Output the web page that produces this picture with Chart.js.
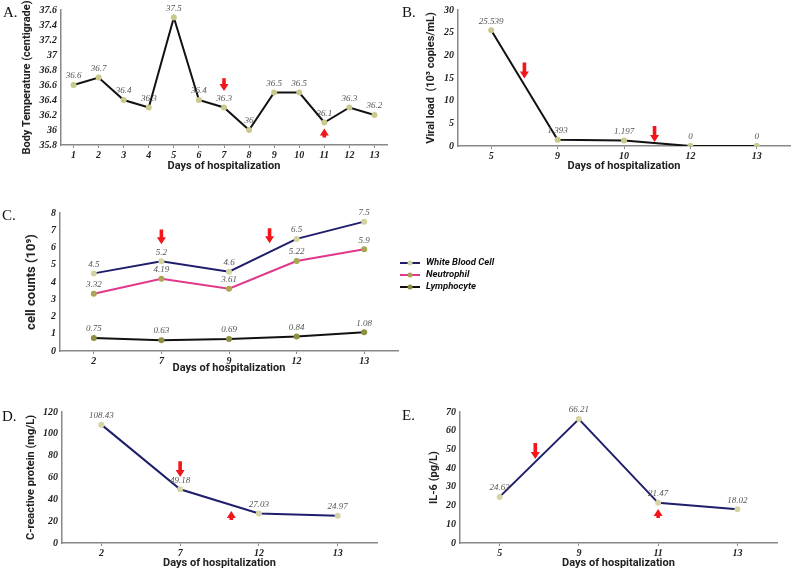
<!DOCTYPE html>
<html>
<head>
<meta charset="utf-8">
<script src="https://cdn.jsdelivr.net/npm/chart.js@4/dist/chart.umd.min.js"></script>
<style>
  body { margin: 0; background: #fff; }
  #page { position: relative; width: 794px; height: 570px; overflow: hidden; }
  canvas { position: absolute; }
  .tag { position: absolute; font: 15px "Liberation Serif", serif; color: #111; }
</style>
</head>
<body>
<div id="page">
  <canvas id="chartA" width="395" height="180" style="left:0;top:0"></canvas>
  <canvas id="chartB" width="394" height="180" style="left:400px;top:0"></canvas>
  <canvas id="chartC" width="500" height="190" style="left:0;top:190px"></canvas>
  <canvas id="chartD" width="395" height="185" style="left:0;top:385px"></canvas>
  <canvas id="chartE" width="394" height="185" style="left:400px;top:385px"></canvas>
  <div class="tag" style="left:3px;top:4px">A.</div>
  <div class="tag" style="left:402px;top:4px">B.</div>
  <div class="tag" style="left:2px;top:207px">C.</div>
  <div class="tag" style="left:2px;top:408px">D.</div>
  <div class="tag" style="left:402px;top:407px">E.</div>
</div>
<script>
// A - body temperature
const daysA = ['1', '2', '3', '4', '5', '6', '7', '8', '9', '10', '11', '12', '13'];
const tempA = [36.6, 36.7, 36.4, 36.3, 37.5, 36.4, 36.3, 36.0, 36.5, 36.5, 36.1, 36.3, 36.2];

// B - viral load
const daysB = ['5', '9', '10', '12', '13'];
const viralB = [25.539, 1.393, 1.197, 0, 0];

// C - cell counts
const daysC = ['2', '7', '9', '12', '13'];
const wbcC = [4.5, 5.2, 4.6, 6.5, 7.5];
const neutC = [3.32, 4.19, 3.61, 5.22, 5.9];
const lymphC = [0.75, 0.63, 0.69, 0.84, 1.08];

// D - CRP
const daysD = ['2', '7', '12', '13'];
const crpD = [108.43, 49.18, 27.03, 24.97];

// E - IL-6
const daysE = ['5', '9', '11', '13'];
const il6E = [24.63, 66.21, 21.47, 18.02];

// red arrows: category index, tail value, tip value
const arrowsA = [[6, 36.69, 36.52], [10, 35.9, 36.02]];
const arrowsB = [[0.5, 18.4, 14.9], [2.46, 4.4, 0.9]];
const arrowsC = [[1, 7.05, 6.19], [2.6, 7.11, 6.24]];
const arrowsD = [[1, 75, 60.5], [1.65, 21, 29.3]];
const arrowsE = [[0.45, 53.4, 44.9], [2, 13.4, 18.2]];

const serif = '"Liberation Serif", "Times New Roman", serif';
const sans = 'Roboto, "DejaVu Sans", sans-serif';

function fmt(v) {
  return String(Math.round(v * 1000) / 1000);
}

const valueLabels = {
  id: 'valueLabels',
  afterDatasetsDraw(chart) {
    const ctx = chart.ctx;
    ctx.save();
    ctx.font = 'italic 9px ' + serif;
    ctx.fillStyle = '#555';
    ctx.textAlign = 'center';
    ctx.textBaseline = 'middle';
    chart.data.datasets.forEach((ds, i) => {
      chart.getDatasetMeta(i).data.forEach((pt, j) => {
        ctx.fillText(fmt(ds.data[j]), pt.x, pt.y - 9);
      });
    });
    ctx.restore();
  }
};

const redArrows = {
  id: 'redArrows',
  afterDatasetsDraw(chart, args, opts) {
    const ctx = chart.ctx;
    const xs = chart.scales.x, ys = chart.scales.y;
    ctx.save();
    ctx.fillStyle = '#f2151a';
    (opts.items || []).forEach(a => {
      const x = xs.getPixelForValue(a[0]);
      const y0 = ys.getPixelForValue(a[1]);
      const y1 = ys.getPixelForValue(a[2]);
      const dir = Math.sign(y1 - y0);
      const head = 7;
      ctx.beginPath();
      ctx.moveTo(x - 1.8, y0);
      ctx.lineTo(x + 1.8, y0);
      ctx.lineTo(x + 1.8, y1 - dir * head);
      ctx.lineTo(x + 4.5, y1 - dir * head);
      ctx.lineTo(x, y1);
      ctx.lineTo(x - 4.5, y1 - dir * head);
      ctx.lineTo(x - 1.8, y1 - dir * head);
      ctx.closePath();
      ctx.fill();
    });
    ctx.restore();
  }
};

const sideLegend = {
  id: 'sideLegend',
  afterDraw(chart, args, opts) {
    if (!opts.show) return;
    const ctx = chart.ctx;
    const x = chart.chartArea.right + opts.dx;
    ctx.save();
    ctx.font = 'italic bold 9.5px ' + sans;
    ctx.textBaseline = 'middle';
    chart.data.datasets.forEach((ds, i) => {
      const y = opts.top + i * 12;
      ctx.strokeStyle = ds.borderColor;
      ctx.lineWidth = 2;
      ctx.beginPath();
      ctx.moveTo(x, y);
      ctx.lineTo(x + 20, y);
      ctx.stroke();
      ctx.fillStyle = ds.pointBackgroundColor;
      ctx.beginPath();
      ctx.arc(x + 10, y, 2.5, 0, Math.PI * 2);
      ctx.fill();
      ctx.fillStyle = '#111';
      ctx.fillText(ds.label, x + 26, y);
    });
    ctx.restore();
  }
};

function line(label, data, color, marker) {
  return {
    label, data,
    borderColor: color,
    borderWidth: 2,
    pointRadius: 3,
    pointBackgroundColor: marker,
    pointBorderColor: marker,
    pointBorderWidth: 0,
    tension: 0
  };
}

function makeChart(id, labels, datasets, cfg) {
  return new Chart(document.getElementById(id), {
    type: 'line',
    data: { labels, datasets },
    plugins: [valueLabels, redArrows, sideLegend],
    options: {
      responsive: false,
      animation: false,
      layout: { padding: { top: cfg.top, right: cfg.right, left: 0, bottom: 0 } },
      plugins: {
        legend: { display: false },
        tooltip: { enabled: false },
        redArrows: { items: cfg.arrows },
        sideLegend: cfg.legend || { show: false }
      },
      scales: {
        x: {
          offset: true,
          grid: { display: true, drawOnChartArea: false, offset: false, tickLength: 3, color: '#888' },
          border: { color: '#888', width: 1.5 },
          ticks: { color: '#222', padding: 1, font: { family: serif, size: 10, style: 'italic', weight: 'bold' } },
          title: {
            display: true, text: 'Days of hospitalization', color: '#222',
            font: { family: sans, size: 11, weight: 'bold' },
            padding: { top: 0, bottom: cfg.titleBottom }
          },
          afterFit: s => { s.height = cfg.xh; }
        },
        y: {
          min: cfg.min, max: cfg.max,
          grid: { display: false, drawTicks: false },
          border: { display: true, color: '#888', width: 1.5 },
          ticks: {
            stepSize: cfg.step, color: '#222', padding: 4,
            font: { family: serif, size: 10, style: 'italic', weight: 'bold' },
            callback: v => String(Math.round(v * 10) / 10)
          },
          title: {
            display: true, text: cfg.yTitle, color: '#222',
            font: { family: sans, size: cfg.yTitleSize || 11, weight: 'bold' },
            padding: { top: cfg.titleLeft, bottom: 0 }
          },
          afterFit: s => { s.width = cfg.yw; }
        }
      }
    }
  });
}

const black = '#111';
const navy = '#1e1e6c';
const khaki = '#c9c98d';

makeChart('chartA', daysA, [line('Temperature', tempA, black, khaki)], {
  min: 35.8, max: 37.6, step: 0.2, yTitle: 'Body Temperature (centigrade)',
  top: 7, right: 8, xh: 35, yw: 61, titleBottom: 7, titleLeft: 21, arrows: arrowsA
});

makeChart('chartB', daysB, [line('Viral load', viralB, black, khaki)], {
  min: 0, max: 30, step: 5, yTitle: 'Viral load  (10\u00b3 copies/mL)',
  top: 9, right: 4, xh: 34, yw: 58, titleBottom: 7, titleLeft: 25, arrows: arrowsB
});

makeChart('chartC', daysC, [
  line('White Blood Cell', wbcC, navy, '#d4d2a0'),
  line('Neutrophil', neutC, '#e0388a', '#a9a552'),
  line('Lymphocyte', lymphC, black, '#8e8f40')
], {
  min: 0, max: 8, step: 1, yTitle: 'cell counts (10\u2079)', yTitleSize: 13,
  top: 23, right: 102, xh: 29, yw: 60, titleBottom: 5, titleLeft: 24, arrows: arrowsC,
  legend: { show: true, dx: 2, top: 73 }
});

makeChart('chartD', daysD, [line('CRP', crpD, navy, '#d6d4a6')], {
  min: 0, max: 120, step: 20, yTitle: 'C-reactive protein (mg/L)',
  top: 27, right: 18, xh: 27, yw: 62, titleBottom: 0, titleLeft: 25, arrows: arrowsD
});

makeChart('chartE', daysE, [line('IL-6', il6E, navy, '#d6d4a6')], {
  min: 0, max: 70, step: 10, yTitle: 'IL-6 (pg/L)',
  top: 27, right: 17, xh: 27, yw: 60, titleBottom: 0, titleLeft: 28, arrows: arrowsE
});
</script>
</body>
</html>
